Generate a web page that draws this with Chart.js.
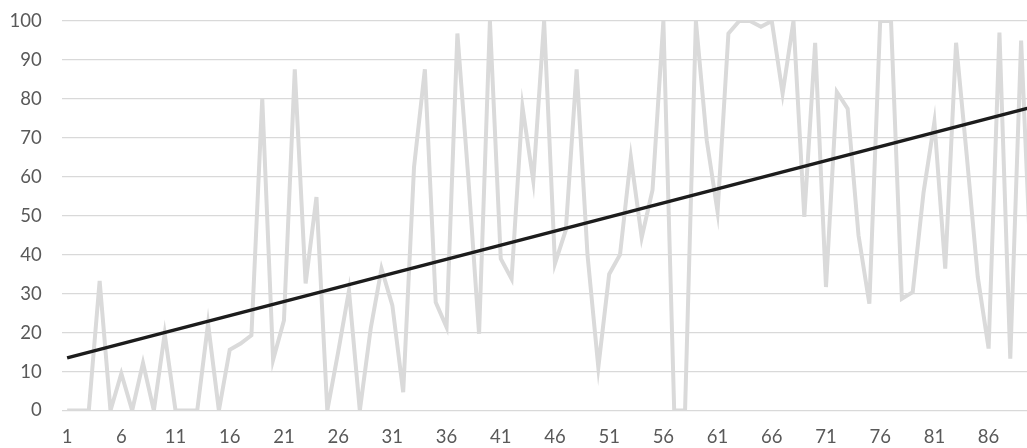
<!DOCTYPE html>
<html>
<head>
<meta charset="utf-8">
<script src="https://cdn.jsdelivr.net/npm/chart.js@4/dist/chart.umd.min.js"></script>
<style>
  html, body { margin: 0; padding: 0; background: #fff; overflow: hidden; }
  #wrap { position: relative; width: 1047px; height: 448px; }
</style>
</head>
<body>
<div id="wrap"><canvas id="lineChart"></canvas></div>
<script>
// categories 1..90 (the last one sits just past the right edge)
const categories = [];
for (let i = 1; i <= 90; i++) categories.push(String(i));

// grey series
const values = [
  0, 0, 0, 33.3, 0, 9.5, 0, 12.2, 0, 19.7,
  0, 0, 0, 22.3, 0, 15.6, 17.2, 19.3, 80.1, 13,
  23.1, 87.6, 32.6, 54.8, 0, 15, 30.8, 0, 21, 36.4,
  27, 4.7, 62.5, 87.6, 27.8, 21.4, 96.8, 60, 19.7, 100,
  39, 33.8, 78, 59, 100, 37.7, 46.3, 87.6, 40, 11.1,
  35, 40, 65, 44.4, 56.6, 100, 0, 0, 100, 69.4,
  51, 96.8, 100, 100, 98.5, 100, 81.4, 100, 49.7, 94.4,
  31.7, 81.8, 77.5, 45, 27.4, 100, 100, 28.7, 30.4, 56,
  74.1, 36.4, 94.4, 65, 34.3, 15.9, 97, 13.3, 95, 30
];

// linear trend: start and end values
const trendStart = 13.5;
const trendEnd = 77.9;
const trend = categories.map((c, i) =>
  i === 0 ? trendStart : (i === categories.length - 1 ? trendEnd : null));

const yTicks = [0, 10, 20, 30, 40, 50, 60, 70, 80, 90, 100];

const ctx = document.getElementById('lineChart');

new Chart(ctx, {
  type: 'line',
  data: {
    labels: categories,
    datasets: [
      {
        label: 'Trend',
        data: trend,
        borderColor: '#1c1c1c',
        borderWidth: 3.5,
        pointRadius: 0,
        spanGaps: true,
        tension: 0,
        order: 0
      },
      {
        label: 'Values',
        data: values,
        borderColor: '#dadada',
        borderWidth: 4,
        pointRadius: 0,
        tension: 0,
        order: 1
      }
    ]
  },
  options: {
    responsive: true,
    maintainAspectRatio: false,
    animation: false,
    layout: { padding: { top: 21, right: 7, left: 0, bottom: 0 } },
    plugins: {
      legend: { display: false },
      tooltip: { enabled: false }
    },
    scales: {
      x: {
        offset: true,
        grid: { display: false, drawTicks: false },
        border: { display: false },
        ticks: {
          autoSkip: false,
          maxRotation: 0,
          padding: 15,
          color: '#595959',
          font: { family: 'Lato', size: 18.5 },
          callback: function (val, index) {
            return index % 5 === 0 ? categories[index] : '';
          }
        },
        afterFit: (scale) => { scale.height = 37.5; }
      },
      y: {
        min: 0,
        max: 100,
        afterBuildTicks: (scale) => { scale.ticks = yTicks.map(v => ({ value: v })); },
        grid: { color: '#d9d9d9', lineWidth: 1.3, drawTicks: false },
        border: { display: false },
        ticks: {
          padding: 20,
          color: '#595959',
          font: { family: 'Lato', size: 18.5 }
        },
        afterFit: (scale) => {
          // fixed axis width, no extra label padding above/below the plot
          scale.width = 61.7;
          scale.paddingTop = 0;
          scale.paddingBottom = 0;
        }
      }
    }
  }
});
</script>
</body>
</html>
